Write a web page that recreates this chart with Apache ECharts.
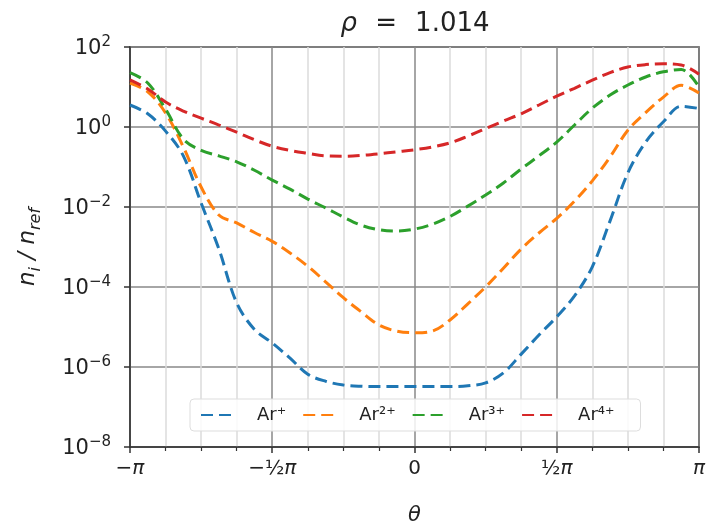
<!DOCTYPE html>
<html>
<head>
<meta charset="utf-8">
<script src="https://cdn.jsdelivr.net/npm/echarts@6/dist/echarts.min.js"></script>
<style>
  html, body { margin: 0; padding: 0; background: #fff; }
  #main { width: 708px; height: 532px; }
</style>
</head>
<body>
<div id="main"></div>
<script>
// theta in units of pi
var theta = [-1, -0.9375, -0.875, -0.8125, -0.75, -0.6875, -0.625, -0.5625, -0.5,
  -0.4375, -0.375, -0.3125, -0.25, -0.1875, -0.125, -0.0625, 0,
  0.0625, 0.125, 0.1875, 0.25, 0.3125, 0.375, 0.4375, 0.5,
  0.5625, 0.625, 0.6875, 0.75, 0.8125, 0.875, 0.9375, 1];

var ar1 = [3.55, 2.14, 0.79, 0.19, 1.26e-2, 8.9e-4, 4.0e-5, 8.7e-6, 4.0e-6,
  1.66e-6, 6.6e-7, 4.4e-7, 3.55e-7, 3.3e-7, 3.24e-7, 3.24e-7, 3.24e-7,
  3.24e-7, 3.24e-7, 3.4e-7, 4.0e-7, 7.1e-7, 2.1e-6, 6.3e-6, 1.8e-5,
  6.0e-5, 3.2e-4, 4.5e-3, 7.1e-2, 0.42, 1.35, 3.3, 2.9];

var ar2 = [12.6, 7.6, 2.24, 0.316, 3.16e-2, 6.3e-3, 4.0e-3, 2.3e-3, 1.38e-3,
  7.1e-4, 3.3e-4, 1.35e-4, 5.4e-5, 2.4e-5, 1.12e-5, 7.9e-6, 7.2e-6,
  7.9e-6, 1.5e-5, 3.8e-5, 1.0e-4, 2.95e-4, 8.9e-4, 2.24e-3, 5.2e-3,
  1.4e-2, 4.5e-2, 0.178, 0.83, 2.3, 5.6, 11.0, 7.1];

var ar3 = [22.9, 12.6, 2.8, 0.5, 0.26, 0.19, 0.135, 8.3e-2, 4.7e-2,
  2.8e-2, 1.58e-2, 9.5e-3, 5.6e-3, 3.5e-3, 2.7e-3, 2.5e-3, 2.8e-3,
  3.7e-3, 5.8e-3, 1.05e-2, 2.0e-2, 4.0e-2, 8.9e-2, 0.19, 0.42,
  1.12, 2.95, 6.3, 11.2, 17.8, 24, 27.5, 10];

var ar4 = [15.1, 8.9, 4.2, 2.5, 1.66, 1.12, 0.74, 0.48, 0.33,
  0.26, 0.22, 0.19, 0.186, 0.195, 0.214, 0.24, 0.27,
  0.316, 0.4, 0.59, 0.91, 1.41, 2.14, 3.55, 5.9,
  9.3, 14.8, 22.9, 31.6, 36.3, 38, 35.5, 20.9];

var names = ['Ar⁺', 'Ar²⁺', 'Ar³⁺', 'Ar⁴⁺'];
var colors = ['#1f77b4', '#ff7f0e', '#2ca02c', '#d62728'];
var xTickLabels = { '-1': '−{p|π}', '-0.5': '−½{p|π}', '0': '0', '0.5': '½{p|π}', '1': '{p|π}' };

var FONT = 'DejaVu Sans';

function pairs(vals) {
  return theta.map(function (t, i) { return [t, vals[i]]; });
}

var chart = echarts.init(document.getElementById('main'));

var series = [ar1, ar2, ar3, ar4].map(function (vals, i) {
  return {
    name: names[i],
    type: 'line',
    data: pairs(vals),
    smooth: 0.35,
    symbol: 'none',
    lineStyle: { color: colors[i], width: 3, type: [12, 6] },
    itemStyle: { color: colors[i] },
    z: 3
  };
});

chart.setOption({
  animation: false,
  textStyle: { fontFamily: FONT },
  title: {
    text: '{i|ρ}\u2002\u2009=\u2002\u20091.014',
    left: 410,
    top: 6,
    textAlign: 'center',
    textStyle: {
      fontFamily: FONT, fontSize: 26, fontWeight: 'normal', color: '#222',
      rich: { i: { fontFamily: FONT, fontSize: 26, fontStyle: 'italic', color: '#222' } }
    }
  },
  grid: {
    left: 130, right: 8, top: 47, bottom: 85,
    show: true, borderColor: '#333', borderWidth: 1.5
  },
  legend: {
    left: 190,
    top: 399,
    itemWidth: 36,
    itemHeight: 14,
    itemGap: 16,
    padding: [7, 26, 7, 10],
    borderColor: '#ddd',
    borderWidth: 1,
    borderRadius: 4,
    backgroundColor: 'rgba(255,255,255,0.85)',
    itemStyle: { opacity: 0 },
    textStyle: { fontFamily: FONT, fontSize: 18, color: '#222', padding: [0, 0, 0, 15] },
    data: names
  },
  xAxis: {
    type: 'value',
    min: -1,
    max: 1,
    interval: 0.5,
    name: 'θ',
    nameLocation: 'middle',
    nameGap: 58,
    nameTextStyle: { fontFamily: FONT, fontSize: 21, fontStyle: 'italic', color: '#222' },
    axisLine: { show: true, onZero: false, lineStyle: { color: '#333', width: 1.5 } },
    axisTick: { show: true, length: 6, lineStyle: { color: '#333', width: 1.5 } },
    minorTick: { show: true, splitNumber: 4, length: 4, lineStyle: { color: '#333', width: 1.2 } },
    axisLabel: {
      margin: 12,
      fontFamily: FONT, fontSize: 20, color: '#222',
      formatter: function (v) {
        var k = String(Math.round(v * 2) / 2);
        return xTickLabels[k] !== undefined ? xTickLabels[k] : '';
      },
      rich: { p: { fontFamily: FONT, fontSize: 20, fontStyle: 'italic', color: '#222' } }
    },
    splitLine: { show: true, lineStyle: { color: '#888', width: 1.5 } },
    minorSplitLine: { show: true, lineStyle: { color: '#dcdcdc', width: 1.5 } }
  },
  yAxis: {
    type: 'log',
    logBase: 10,
    min: 1e-8,
    max: 1e2,
    interval: 2,
    name: '{n|n}{s|i}{n| / }{n|n}{s|ref}',
    nameLocation: 'middle',
    nameGap: 86,
    nameTextStyle: {
      fontFamily: FONT, fontSize: 23, color: '#222',
      rich: {
        n: { fontFamily: FONT, fontSize: 23, fontStyle: 'italic', color: '#222', lineHeight: 27, verticalAlign: 'top' },
        s: { fontFamily: FONT, fontSize: 16, fontStyle: 'italic', color: '#222', lineHeight: 16, verticalAlign: 'bottom' }
      }
    },
    axisLine: { show: true, onZero: false, lineStyle: { color: '#333', width: 1.5 } },
    axisTick: { show: true, length: 6, lineStyle: { color: '#333', width: 1.5 } },
    axisLabel: {
      margin: 19,
      fontFamily: FONT, fontSize: 21, color: '#222',
      formatter: function (v) {
        var e = Math.round(Math.log10(v));
        var s = e < 0 ? '−' + (-e) : String(e);
        return '{b|10}{s|' + s + '}';
      },
      rich: {
        b: { fontFamily: FONT, fontSize: 21, color: '#222', lineHeight: 25, verticalAlign: 'bottom' },
        s: { fontFamily: FONT, fontSize: 15, color: '#222', lineHeight: 15, verticalAlign: 'top' }
      }
    },
    splitLine: { show: true, lineStyle: { color: '#888', width: 1.5 } }
  },
  series: series
});
</script>
</body>
</html>
